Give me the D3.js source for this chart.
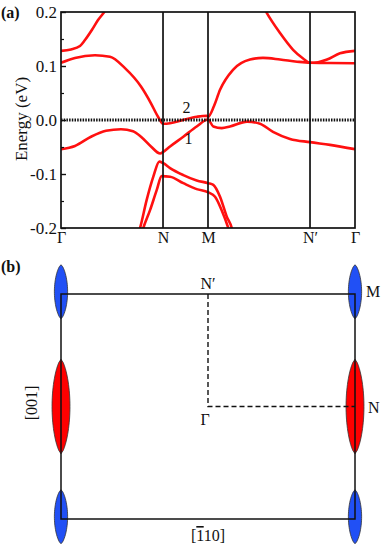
<!DOCTYPE html>
<html>
<head>
<meta charset="utf-8">
<script src="https://cdn.jsdelivr.net/npm/d3@7/dist/d3.min.js"></script>
<style>
  body { margin: 0; background: #fff; }
  svg text { font-family: "Liberation Serif", "Times New Roman", serif; fill: #111; }
</style>
</head>
<body>
<svg id="fig" width="381" height="546"></svg>
<script>
// high symmetry points along the path (k in units of Gamma-N)
var symK = [0, 1, 1.441, 2.441, 2.882];
var symLabels = ["\u0393", "N", "M", "N\u2032", "\u0393"];

var yMajor = [-0.2, -0.1, 0, 0.1, 0.2];
var yMajorLabels = ["-0.2", "-0.1", "0.0", "0.1", "0.2"];
var yMinor = [-0.15, -0.05, 0.05, 0.15];

// band "2" (crosses the Fermi level near N, touches band 1 at M)
var band2K = [0, 0.137, 0.333, 0.480, 0.627, 0.784, 0.882, 0.951, 1.0, 1.069, 1.196, 1.333, 1.428, 1.441, 1.5, 1.559, 1.686, 1.853, 1.98, 2.147, 2.314, 2.441, 2.637, 2.882];
var band2E = [0.106, 0.115, 0.120, 0.117, 0.096, 0.062, 0.031, 0.006, -0.007, -0.006, 0.000, 0.006, 0.008, 0.006, 0.026, 0.056, 0.093, 0.112, 0.115, 0.112, 0.108, 0.106, 0.1055, 0.105];

// band "1"
var band1K = [0, 0.137, 0.294, 0.441, 0.588, 0.706, 0.784, 0.882, 0.971, 1.003, 1.069, 1.199, 1.330, 1.441, 1.493, 1.576, 1.657, 1.824, 1.951, 2.078, 2.245, 2.441, 2.637, 2.882];
var band1E = [-0.054, -0.048, -0.031, -0.020, -0.017, -0.021, -0.031, -0.049, -0.062, -0.059, -0.049, -0.031, -0.012, 0.001, -0.012, -0.015, -0.012, -0.003, -0.007, -0.022, -0.035, -0.041, -0.046, -0.054];

// upper band, leaves the window between Gamma and N', comes back at N'
var bandTopAK = [0, 0.098, 0.186, 0.235, 0.304, 0.363, 0.431, 0.47];
var bandTopAE = [0.128, 0.1306, 0.137, 0.148, 0.167, 0.185, 0.202, 0.215];
var bandTopBK = [1.95, 2.01, 2.147, 2.275, 2.373, 2.441, 2.52, 2.608, 2.735, 2.882];
var bandTopBE = [0.222, 0.2005, 0.161, 0.130, 0.114, 0.106, 0.107, 0.112, 0.1235, 0.128];

// two lower bands around N-M
var bandLowAK = [0.755, 0.775, 0.840, 0.905, 0.964, 1.003, 1.069, 1.199, 1.330, 1.444, 1.493, 1.559, 1.625, 1.674, 1.691];
var bandLowAE = [-0.213, -0.2, -0.148, -0.105, -0.077, -0.080, -0.089, -0.102, -0.112, -0.117, -0.120, -0.142, -0.179, -0.2, -0.213];
var bandLowBK = [0.787, 0.807, 0.873, 0.938, 0.987, 1.069, 1.199, 1.330, 1.444, 1.510, 1.575, 1.640, 1.662];
var bandLowBE = [-0.213, -0.2, -0.167, -0.130, -0.104, -0.105, -0.117, -0.128, -0.134, -0.142, -0.167, -0.2, -0.213];

// panel (b): Fermi pockets at M (blue) and N (red), BZ coords
var pocketMX = [-1, -1, 1, 1];
var pocketMY = [1, -1, 1, -1];
var pocketNX = [-1, 1];
var pocketNY = [0, 0];

var svg = d3.select("#fig");

// ---------- panel (a) ----------
var pLeft = 61, pRight = 355, pTop = 12, pBottom = 228;
var x = d3.scaleLinear().domain([0, symK[symK.length - 1]]).range([pLeft, pRight]);
var y = d3.scaleLinear().domain([-0.2, 0.2]).range([pBottom, pTop]);

svg.append("defs").append("clipPath").attr("id", "clipA")
	.append("rect").attr("x", pLeft).attr("y", pTop).attr("width", pRight - pLeft).attr("height", pBottom - pTop);

var line = d3.line().x(function (d) { return x(d[0]); }).y(function (d) { return y(d[1]); }).curve(d3.curveMonotoneX);

var bands = [[band2K, band2E], [band1K, band1E], [bandTopAK, bandTopAE], [bandTopBK, bandTopBE], [bandLowAK, bandLowAE], [bandLowBK, bandLowBE]];

var gb = svg.append("g").attr("clip-path", "url(#clipA)");
for (var i = 0; i < bands.length; ++i) {
	var pts = d3.zip(bands[i][0], bands[i][1]);
	gb.append("path")
		.attr("d", line(pts))
		.attr("fill", "none")
		.attr("stroke", "#ff1010")
		.attr("stroke-width", 2.6);
}

// Fermi level
svg.append("line")
	.attr("x1", x(0)).attr("x2", x(symK[symK.length - 1]))
	.attr("y1", y(0)).attr("y2", y(0))
	.attr("stroke", "#111").attr("stroke-width", 2.8).attr("stroke-dasharray", "1.5 1.2");

// vertical lines at N, M, N'
svg.selectAll(".vk").data(symK.slice(1, symK.length - 1)).enter().append("line")
	.attr("x1", function (d) { return x(d); }).attr("x2", function (d) { return x(d); })
	.attr("y1", pTop).attr("y2", pBottom)
	.attr("stroke", "#111").attr("stroke-width", 1.7);

// y axis
var ya = svg.append("g").attr("transform", "translate(" + pLeft + ",0)")
	.call(d3.axisLeft(y).tickValues(yMajor).tickSize(-5).tickPadding(4)
		.tickFormat(function (d, i) { return yMajorLabels[i]; }));
ya.select(".domain").remove();
ya.selectAll("line").attr("stroke", "#111").attr("stroke-width", 1.4);
ya.selectAll("text").style("font-size", "17px").style("font-family", "Liberation Serif");

var ym = svg.append("g").attr("transform", "translate(" + pLeft + ",0)")
	.call(d3.axisLeft(y).tickValues(yMinor).tickSize(-3).tickFormat(""));
ym.select(".domain").remove();
ym.selectAll("line").attr("stroke", "#111").attr("stroke-width", 1.2);

// x axis labels
var xa = svg.append("g").attr("transform", "translate(0," + pBottom + ")")
	.call(d3.axisBottom(x).tickValues(symK).tickSize(0).tickPadding(4)
		.tickFormat(function (d, i) { return symLabels[i]; }));
xa.select(".domain").remove();
xa.selectAll("text").style("font-size", "16px").style("font-family", "Liberation Serif");

// frame
svg.append("rect").attr("x", pLeft).attr("y", pTop).attr("width", pRight - pLeft).attr("height", pBottom - pTop)
	.attr("fill", "none").attr("stroke", "#111").attr("stroke-width", 1.7);

svg.append("text").attr("transform", "translate(27,119) rotate(-90)")
	.attr("text-anchor", "middle").style("font-size", "17px").text("Energy (eV)");

svg.append("text").attr("x", x(1.23)).attr("y", y(0.012) - 1).attr("text-anchor", "middle")
	.style("font-size", "16px").text("2");
svg.append("text").attr("x", x(1.25)).attr("y", y(-0.045)).attr("text-anchor", "middle")
	.style("font-size", "16px").text("1");

svg.append("text").attr("x", 1).attr("y", 18).style("font-size", "16px").style("font-weight", "bold").text("(a)");

// ---------- panel (b) ----------
var bx = d3.scaleLinear().domain([-1, 1]).range([61, 355]);
var by = d3.scaleLinear().domain([-1, 1]).range([519, 294]);

function pocketPath(cx, cy, a, b) {
	var pts = [];
	var n = 30;
	for (var j = 0; j <= n; ++j) {
		var t = -1 + 2 * j / n;
		pts.push([cx + a * Math.pow(1 - t * t, 0.7), cy + b * t]);
	}
	for (var j = n - 1; j > 0; --j) {
		var t = -1 + 2 * j / n;
		pts.push([cx - a * Math.pow(1 - t * t, 0.7), cy + b * t]);
	}
	return d3.line().x(function (d) { return bx(d[0]); }).y(function (d) { return by(d[1]); })
		.curve(d3.curveLinearClosed)(pts);
}

var gp = svg.append("g");
for (var i = 0; i < pocketMX.length; ++i) {
	gp.append("path").attr("d", pocketPath(pocketMX[i], pocketMY[i] + 0.02, 0.045, 0.24))
		.attr("fill", "#2150f5").attr("stroke", "#333").attr("stroke-width", 0.8);
}
for (var i = 0; i < pocketNX.length; ++i) {
	gp.append("path").attr("d", pocketPath(pocketNX[i], pocketNY[i], 0.061, 0.42))
		.attr("fill", "#ff0000").attr("stroke", "#333").attr("stroke-width", 0.8);
}

svg.append("rect").attr("x", bx(-1)).attr("y", by(1)).attr("width", bx(1) - bx(-1)).attr("height", by(-1) - by(1))
	.attr("fill", "none").attr("stroke", "#111").attr("stroke-width", 1.5);

// dashed path N' - Gamma - N
svg.append("path")
	.attr("d", d3.line().x(function (d) { return bx(d[0]); }).y(function (d) { return by(d[1]); })([[0, 1], [0, 0], [1, 0]]))
	.attr("fill", "none").attr("stroke", "#111").attr("stroke-width", 1.4).attr("stroke-dasharray", "5 3");

svg.append("text").attr("x", bx(0)).attr("y", by(1) - 5).attr("text-anchor", "middle").style("font-size", "16px").text("N\u2032");
svg.append("text").attr("x", bx(0) - 3).attr("y", by(0) + 18).attr("text-anchor", "middle").style("font-size", "16px").text("\u0393");
svg.append("text").attr("x", bx(1) + 11).attr("y", by(1) + 3).style("font-size", "16px").text("M");
svg.append("text").attr("x", bx(1) + 13).attr("y", by(0) + 6).style("font-size", "16px").text("N");

var tb = svg.append("text").attr("x", bx(0)).attr("y", 541).attr("text-anchor", "middle").style("font-size", "16px");
tb.append("tspan").text("[");
tb.append("tspan").style("text-decoration", "overline").text("1");
tb.append("tspan").text("10]");

svg.append("text").attr("transform", "translate(37,403) rotate(-90)")
	.attr("text-anchor", "middle").style("font-size", "16px").text("[001]");

svg.append("text").attr("x", 1).attr("y", 272).style("font-size", "16px").style("font-weight", "bold").text("(b)");
</script>
</body>
</html>
